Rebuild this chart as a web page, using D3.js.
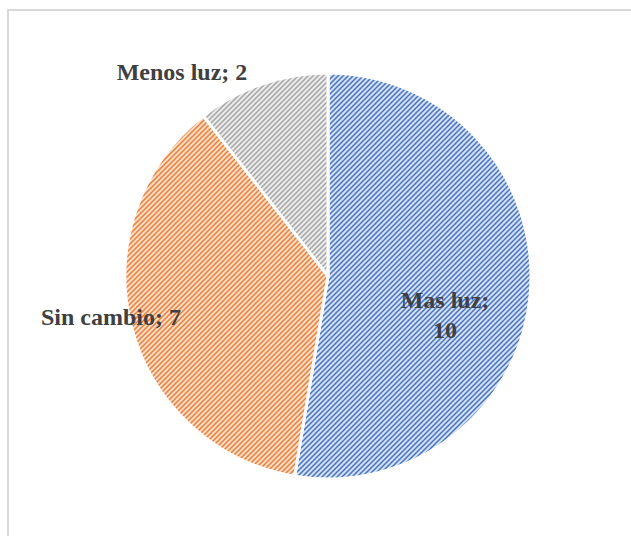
<!DOCTYPE html>
<html>
<head>
<meta charset="utf-8">
<script src="https://cdn.jsdelivr.net/npm/d3@7/dist/d3.min.js"></script>
<style>
  html, body { margin: 0; padding: 0; background: #fff; }
  svg { display: block; }
</style>
</head>
<body>
<svg id="chart" width="631" height="536"></svg>
<script>
// Survey responses: change in light
const categories = ["Mas luz", "Sin cambio", "Menos luz"];
const values = [10, 7, 2];
const fgColors = ["#4472C4", "#ED7D31", "#A5A5A5"];
const bgColors = ["#D5E0F4", "#FBDDCB", "#EBEBEB"];

const svg = d3.select("#chart");
const W = 631, H = 536;
const cx = 328, cy = 276, R = 203;

// Chart area frame
svg.append("rect")
  .attr("x", 8).attr("y", 10)
  .attr("width", W + 20).attr("height", H + 20)
  .attr("fill", "#fff")
  .attr("stroke", "#D9D9D9").attr("stroke-width", 2);

// Diagonal hatch patterns, one per slice
const defs = svg.append("defs");
categories.forEach((c, i) => {
  const p = defs.append("pattern")
    .attr("id", "hatch" + i)
    .attr("patternUnits", "userSpaceOnUse")
    .attr("width", 5).attr("height", 5);
  p.append("rect").attr("width", 5).attr("height", 5).attr("fill", bgColors[i]);
  p.append("path")
    .attr("d", "M-1,1 l2,-2 M0,5 l5,-5 M4,6 l2,-2")
    .attr("stroke", fgColors[i]).attr("stroke-width", 1.5);
});

const pie = d3.pie().sort(null).value(d => d)(values);
const arc = d3.arc().innerRadius(0).outerRadius(R);

const g = svg.append("g").attr("transform", `translate(${cx},${cy})`);
g.selectAll("path.slice")
  .data(pie)
  .join("path")
  .attr("class", "slice")
  .attr("d", arc)
  .attr("fill", (d, i) => `url(#hatch${i})`)
  .attr("stroke", "#fff")
  .attr("stroke-width", 3)
  .attr("stroke-linejoin", "round");

// Data labels "Category; value"
const labelPos = [
  { x: 445, y: 308, lines: [categories[0] + ";", String(values[0])] },
  { x: 111, y: 325, lines: [categories[1] + "; " + values[1]] },
  { x: 182, y: 80, lines: [categories[2] + "; " + values[2]] }
];
labelPos.forEach(l => {
  const t = svg.append("text")
    .attr("x", l.x).attr("y", l.y)
    .attr("text-anchor", "middle")
    .attr("font-family", "'Liberation Serif', 'Times New Roman', serif")
    .attr("font-weight", "bold")
    .attr("font-size", 24)
    .attr("fill", "#404040");
  l.lines.forEach((s, k) => {
    t.append("tspan").attr("x", l.x).attr("dy", k === 0 ? 0 : 30).text(s);
  });
});
</script>
</body>
</html>
